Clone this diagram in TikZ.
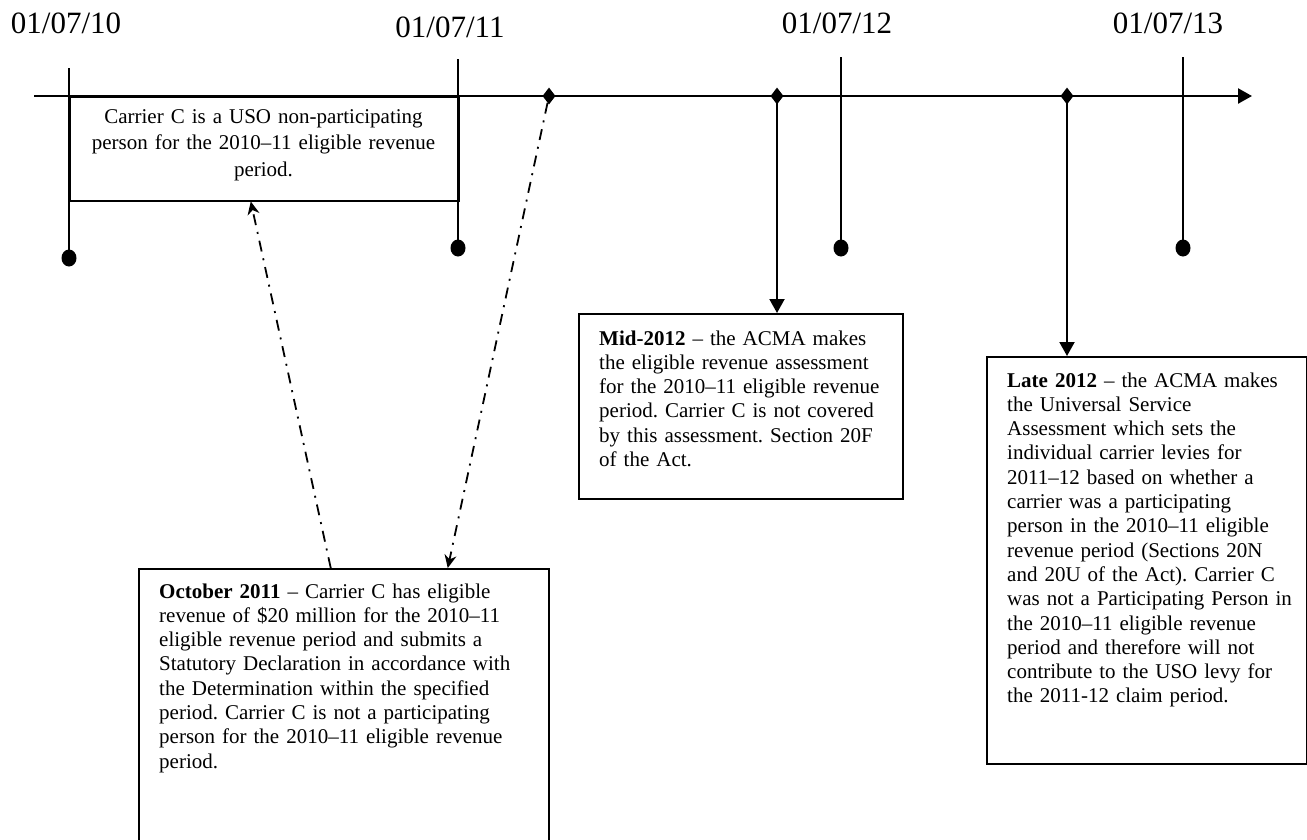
\documentclass[tikz,border=0pt]{standalone}
\usepackage{fontspec}
\setmainfont{Liberation Serif}
\usepackage{tikz}
\usetikzlibrary{arrows.meta, shapes.geometric, positioning}
\frenchspacing

\tikzstyle{axisLine} = [line width=2.4pt, -{Triangle[length=14pt,width=15pt]}]
\tikzstyle{yearTick} = [line width=2pt]
\tikzstyle{endDot} = [ellipse, fill, inner sep=0, minimum width=15pt, minimum height=17pt]
\tikzstyle{eventMark} = [diamond, fill, inner sep=0, minimum width=13pt, minimum height=17pt]
\tikzstyle{dateLabel} = [font=\fontsize{31}{36}\selectfont, inner sep=0]
\tikzstyle{eventBox} = [draw, line width=1.5pt, rectangle, inner sep=0, anchor=north west]
\tikzstyle{eventText} = [font=\fontsize{21}{24.3}\selectfont, inner sep=0, align=left, anchor=base west]
\tikzstyle{solidArrow} = [line width=2pt, -{Triangle[length=14pt,width=15pt]}]
\tikzstyle{dotDash} = [line width=1.8pt, dash pattern=on 11pt off 7pt on 2pt off 7pt,
   -{Stealth[length=13pt,width=12pt]}]

\begin{document}
\begin{tikzpicture}[x=1pt, y=1pt]
  \useasboundingbox (0,0) rectangle (1307,-839);

  % dates
  \node[dateLabel, anchor=base] (d10) at (66,-33) {01/07/10};
  \node[dateLabel, anchor=base] (d11) at (450,-37) {01/07/11};
  \node[dateLabel, anchor=base] (d12) at (837,-33) {01/07/12};
  \node[dateLabel, anchor=base] (d13) at (1168,-33) {01/07/13};

  % time line
  \coordinate (start) at (34,-96);
  \coordinate (tip) at (1252,-96);
  \coordinate (t10) at (69,-68);
  \coordinate (t11) at (458,-59);
  \coordinate (t12) at (841,-57);
  \coordinate (t13) at (1183,-57);
  \node[endDot] (b10) at (69,-258) {};
  \node[endDot] (b11) at (458,-248) {};
  \node[endDot] (b12) at (841,-248) {};
  \node[endDot] (b13) at (1183,-248) {};

  % boxes
  \node[eventBox, minimum width=389pt, minimum height=104pt] (uso) at (69,-96) {};
  \node[eventBox, minimum width=324pt, minimum height=185pt] (mid) at (578,-313) {};
  \node[eventBox, minimum width=320pt, minimum height=407pt] (late) at (986,-356) {};
  \node[eventBox, minimum width=410pt, minimum height=300pt] (oct) at (138,-568) {};

  \node[font=\fontsize{21}{26.7}\selectfont, inner sep=0, align=center, text width=380pt,
        anchor=base] (usotxt) at (263.5,-123)
    {Carrier C is a USO non-participating\\ person for the 2010--11 eligible revenue\\ period.};
  \node[eventText, text width=300pt] (midtxt) at (599,-345)
    {\textbf{Mid-2012} -- the ACMA makes\\ the eligible revenue assessment\\ for the 2010--11 eligible revenue\\
     period. Carrier C is not covered\\ by this assessment. Section 20F\\ of the Act.};
  \node[eventText, text width=298pt] (latetxt) at (1007,-387)
    {\textbf{Late 2012} -- the ACMA makes\\ the Universal Service\\ Assessment which sets the\\
     individual carrier levies for\\ 2011--12 based on whether a\\ carrier was a participating\\
     person in the 2010--11 eligible\\ revenue period (Sections 20N\\ and 20U of the Act). Carrier C\\
     was not a Participating Person in\\ the 2010--11 eligible revenue\\ period and therefore will not\\
     contribute to the USO levy for\\ the 2011-12 claim period.};
  \node[eventText, text width=385pt] (octtxt) at (159,-598)
    {\textbf{October 2011} -- Carrier C has eligible\\ revenue of \$20 million for the 2010--11\\
     eligible revenue period and submits a\\ Statutory Declaration in accordance with\\
     the Determination within the specified\\ period. Carrier C is not a participating\\
     person for the 2010--11 eligible revenue\\ period.};

  % lines and arrows
  \draw[axisLine] (start) -- (tip);
  \draw[yearTick] (t10) -- (b10.center);
  \draw[yearTick] (t11) -- (b11.center);
  \draw[yearTick] (t12) -- (b12.center);
  \draw[yearTick] (t13) -- (b13.center);

  \node[eventMark] (ev1) at (549,-96) {};
  \node[eventMark] (ev2) at (777,-96) {};
  \node[eventMark] (ev3) at (1067,-96) {};

  \draw[solidArrow] (ev2.center) -- (ev2 |- mid.north);
  \draw[solidArrow] (ev3.center) -- (ev3 |- late.north);
  \draw[dotDash] ([xshift=-13pt]oct.north) -- ([xshift=-13.5pt]uso.south);
  \draw[dotDash] (ev1) -- ([xshift=104pt]oct.north);
\end{tikzpicture}
\end{document}
